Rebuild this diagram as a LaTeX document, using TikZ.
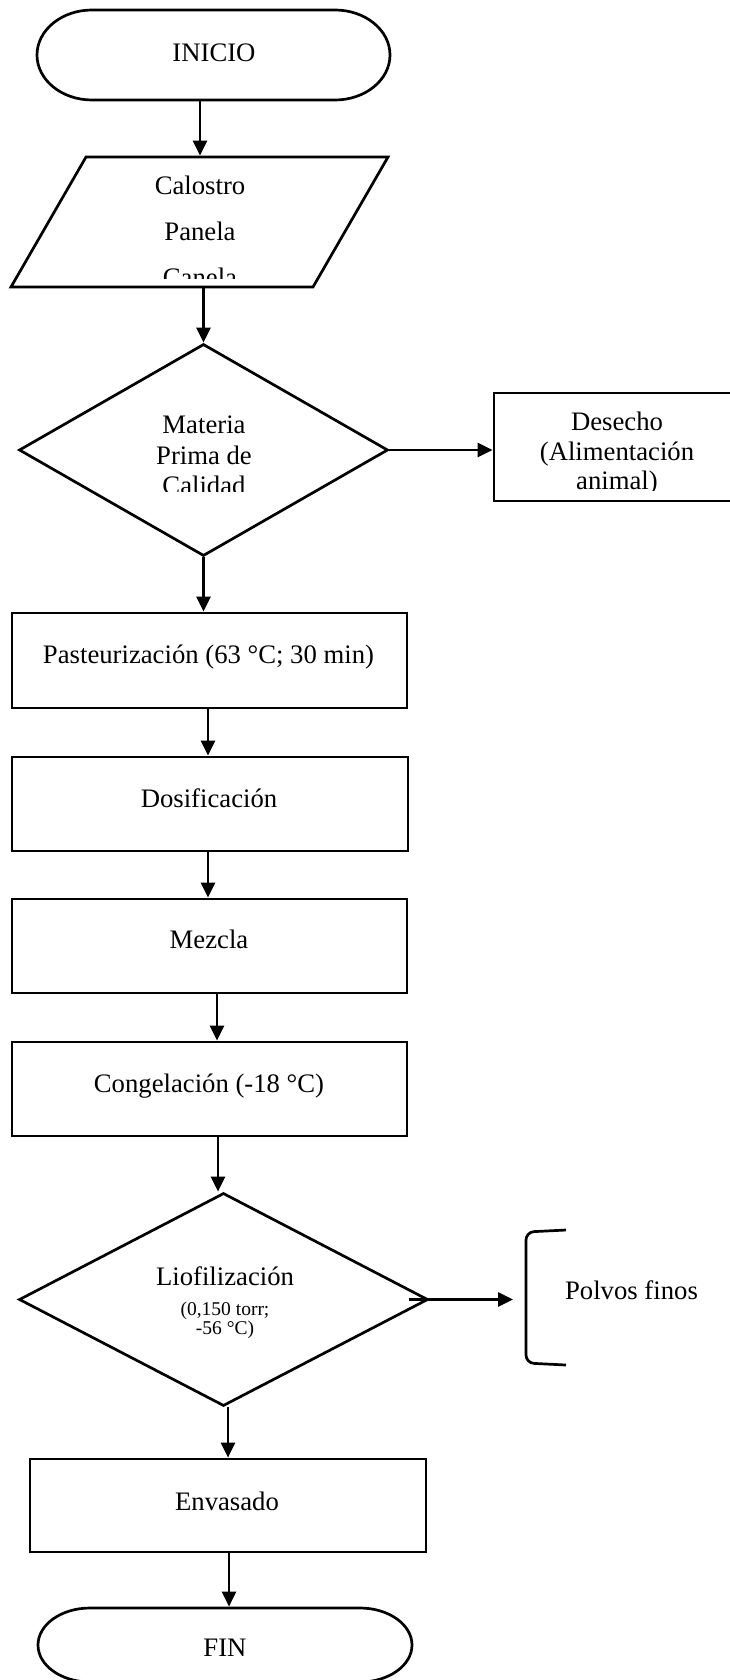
\documentclass[tikz,border=0pt]{standalone}
\usepackage{fontspec}
\setmainfont{Liberation Serif}
\usetikzlibrary{arrows.meta,shapes.geometric,calc}
\begin{document}
\begin{tikzpicture}[x=1pt,y=1pt, line width=2.7pt,
  box/.style={draw, rectangle, inner sep=0pt},
  ghost/.style={rectangle, inner sep=0pt},
  dia/.style={draw, diamond, inner sep=0pt},
  arr/.style={-{Triangle[length=15pt,width=14pt]}},
  txt/.style={font=\fontsize{26.7}{30}\selectfont, inner sep=0pt, anchor=base},
  stxt/.style={font=\fontsize{19.5}{21}\selectfont, inner sep=0pt, anchor=base}]
\useasboundingbox (0,0) rectangle (729,-1680);

% INICIO
\node[ghost, minimum width=353pt, minimum height=90pt] (inicio) at (213.5,-55) {};
\draw (92,-10) -- (335,-10) arc[start angle=90,end angle=-90,x radius=55,y radius=45]
  -- (92,-100) arc[start angle=270,end angle=90,x radius=55,y radius=45] -- cycle;
\node[txt] (tinicio) at (214,-62) {INICIO};

% Ingredientes (parallelogram)
\node[ghost, minimum width=302pt, minimum height=130pt] (ing) at (199.5,-222) {};
\draw (86,-157) -- (388,-157) -- (313,-287) -- (11,-287) -- cycle;
\begin{scope}
  \clip (0,-150) rectangle (729,-278);
  \node[txt] (t1) at (200,-195) {Calostro};
  \node[txt] (t2) at (200,-241) {Panela};
  \node[txt] (t3) at (200,-287) {Canela};
\end{scope}

% Diamond 1
\node[dia, minimum width=369pt, minimum height=212pt] (d1) at (203.5,-450) {};
\begin{scope}
  \clip (0,-340) rectangle (729,-491);
  \node[txt] (d1a) at (204,-433) {Materia};
  \node[txt] (d1b) at (204,-464) {Prima de};
  \node[txt] (d1c) at (204,-494) {Calidad};
\end{scope}

% Desecho
\node[box, minimum width=266pt, minimum height=108pt] (des) at (627,-447) {};
\begin{scope}
  \clip (494,-393) rectangle (729,-490);
  \node[txt] (desa) at (617,-430) {Desecho};
  \node[txt] (desb) at (617,-460) {(Alimentación};
  \node[txt] (desc) at (617,-489) {animal)};
\end{scope}

% Process boxes
\node[box, minimum width=395pt, minimum height=95pt] (pas) at (209.5,-660.5) {};
\node[txt] (tpas) at (208.5,-663) {Pasteurización (63 °C; 30 min)};

\node[box, minimum width=396pt, minimum height=94pt] (dos) at (210,-804) {};
\node[txt] (tdos) at (209,-807) {Dosificación};

\node[box, minimum width=395pt, minimum height=94pt] (mez) at (209.5,-946) {};
\node[txt] (tmez) at (209,-948) {Mezcla};

\node[box, minimum width=395pt, minimum height=94pt] (con) at (209.5,-1089) {};
\node[txt] (tcon) at (209,-1092) {Congelación (-18 °C)};

% Diamond 2
\node[dia, minimum width=409pt, minimum height=213pt] (d2) at (223.5,-1299.5) {};
\node[txt] (d2a) at (225,-1285) {Liofilización};
\node[stxt] (d2b) at (225,-1315) {(0,150 torr;};
\node[stxt] (d2c) at (225,-1334) {-56 °C)};

% Polvos finos
\node[ghost, minimum width=187pt, minimum height=134pt, anchor=west] (pol) at (513,-1297) {};
\draw[rounded corners=8pt] (566,-1230) -- (526,-1232) -- (526,-1363) -- (566,-1365);
\node[txt] (tpol) at (631.5,-1299) {Polvos finos};

% Envasado
\node[box, minimum width=396pt, minimum height=93pt] (env) at (228,-1505.5) {};
\node[txt] (tenv) at (227,-1510) {Envasado};

% FIN
\node[ghost, minimum width=374pt, minimum height=74pt] (fin) at (225,-1645) {};
\draw (90,-1608) -- (360,-1608) arc[start angle=90,end angle=-90,x radius=52,y radius=37]
  -- (90,-1682) arc[start angle=270,end angle=90,x radius=52,y radius=37] -- cycle;
\node[txt] (tfin) at (225,-1656) {FIN};

% Connectors
\draw[arr] (inicio.south -| 200,0) -- (ing.north -| 200,0);
\draw[arr] (ing.south -| d1.north) -- (d1.north);
\draw[arr] (d1.east) -- (d1.east -| des.west);
\draw[arr] (d1.south) -- (pas.north -| d1.south);
\draw[arr] (pas.south -| 208,0) -- (dos.north -| 208,0);
\draw[arr] (dos.south -| 208,0) -- (mez.north -| 208,0);
\draw[arr] (mez.south -| 217,0) -- (con.north -| 217,0);
\draw[arr] (con.south -| 218,0) -- (d2.north -| 218,0);
\draw[arr] ([xshift=-20pt]d2.east) -- (d2.east -| pol.west);
\draw[arr] (d2.south -| env.north) -- (env.north);
\draw[arr] (env.south -| 229,0) -- (fin.north -| 229,0);
\end{tikzpicture}
\end{document}
